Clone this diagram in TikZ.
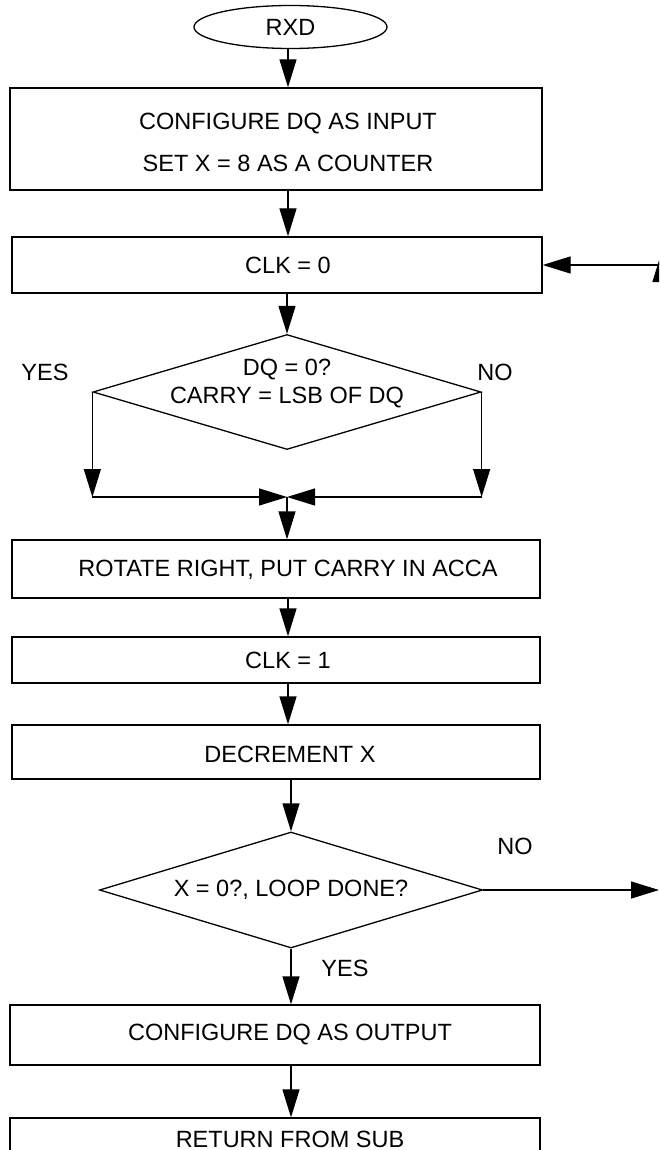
\documentclass[tikz,border=0pt]{standalone}
\usepackage{fontspec}
\setmainfont{Liberation Sans}
\usetikzlibrary{arrows.meta,shapes.geometric}
\begin{document}
\begin{tikzpicture}[x=1pt,y=-1pt,
  line width=1.3pt,
  arr/.style={-{Triangle[length=28pt,width=17pt]}},
  stepbox/.style={draw,rectangle,inner sep=0pt},
  txt/.style={inner sep=0pt,font=\fontsize{23.5}{28}\selectfont,align=center},
  lbl/.style={inner sep=0pt,font=\fontsize{23.5}{28}\selectfont},
  dia/.style={draw,diamond,inner sep=0pt,aspect=3.3}]
\clip (0,0) rectangle (659,1150);

% start terminal
\node[draw,ellipse,minimum width=193pt,minimum height=43pt,inner sep=0pt] (start) at (290.5,27) {};
\node[txt] (tstart) at (290.5,27) {RXD};

% process boxes
\node[stepbox,minimum width=532pt,minimum height=102pt] (b1) at (276,139) {};
\node[txt] (t1) at (288,142) {CONFIGURE DQ AS INPUT\\[14pt]SET X = 8 AS A COUNTER};

\node[stepbox,minimum width=530pt,minimum height=56pt] (b2) at (277,265) {};
\node[txt] (t2) at (288,265) {CLK = 0};

% first decision
\node[dia,minimum width=388pt,minimum height=115pt] (d1) at (287,392) {};
\node[txt] (t3) at (287,384) {DQ = 0?\\[0pt]CARRY = LSB OF DQ};
\node[lbl] (yes1) at (45,372) {YES};
\node[lbl] (no1) at (495,372) {NO};

\coordinate (ml) at (95,497);
\coordinate (mr) at (483,497);
\coordinate (mc) at (287,497);

\node[stepbox,minimum width=528pt,minimum height=58pt] (b3) at (276,569) {};
\node[txt] (t4) at (288,570) {ROTATE RIGHT, PUT CARRY IN ACCA};

\node[stepbox,minimum width=528pt,minimum height=46pt] (b4) at (276,660) {};
\node[txt] (t5) at (288,660) {CLK = 1};

\node[stepbox,minimum width=528pt,minimum height=54pt] (b5) at (276,752) {};
\node[txt] (t6) at (290,754) {DECREMENT X};

% loop decision
\node[dia,minimum width=383pt,minimum height=116pt] (d2) at (291,890) {};
\node[txt] (t7) at (291,890) {X = 0?, LOOP DONE?};
\node[lbl] (no2) at (515,846) {NO};
\node[lbl] (yes2) at (345,968) {YES};

\node[stepbox,minimum width=530pt,minimum height=60pt] (b6) at (275,1035) {};
\node[txt] (t8) at (290,1035) {CONFIGURE DQ AS OUTPUT};

\node[stepbox,minimum width=530pt,minimum height=64pt] (b7) at (275,1150) {};
\node[txt] (t9) at (290,1139) {RETURN FROM SUB};

% loop-back coordinates at the right edge
\coordinate (loopin) at (659,265);
\coordinate (noout) at (659,890);
\coordinate (upbot) at (661,420);
\coordinate (uptop) at (661,254);

% main flow
\draw[arr] (start.south -| 288,0) -- (b1.north -| 288,0);
\draw[arr] (b1.south -| 288,0) -- (b2.north -| 288,0);
\draw[arr] (b2.south -| d1.north) -- (d1.north);
\draw[arr] (d1.west) -- (d1.west |- ml);
\draw[arr] (d1.east) -- (d1.east |- mr);
\draw[arr] (d1.west |- ml) -- (mc);
\draw[arr] (d1.east |- mr) -- (mc);
\draw[arr] (mc) -- (b3.north -| mc);
\draw[arr] (b3.south -| 288,0) -- (b4.north -| 288,0);
\draw[arr] (b4.south -| 288,0) -- (b5.north -| 288,0);
\draw[arr] (b5.south -| d2.north) -- (d2.north);
\draw[arr] (d2.south) -- (b6.north -| d2.south);
\draw[arr] (b6.south -| d2.south) -- (b7.north -| d2.south);

% loop exit and return
\draw[arr] (d2.east) -- (noout);
\draw[arr] (upbot) -- (uptop);
\draw[arr] (loopin) -- (b2.east |- loopin);
\end{tikzpicture}
\end{document}
